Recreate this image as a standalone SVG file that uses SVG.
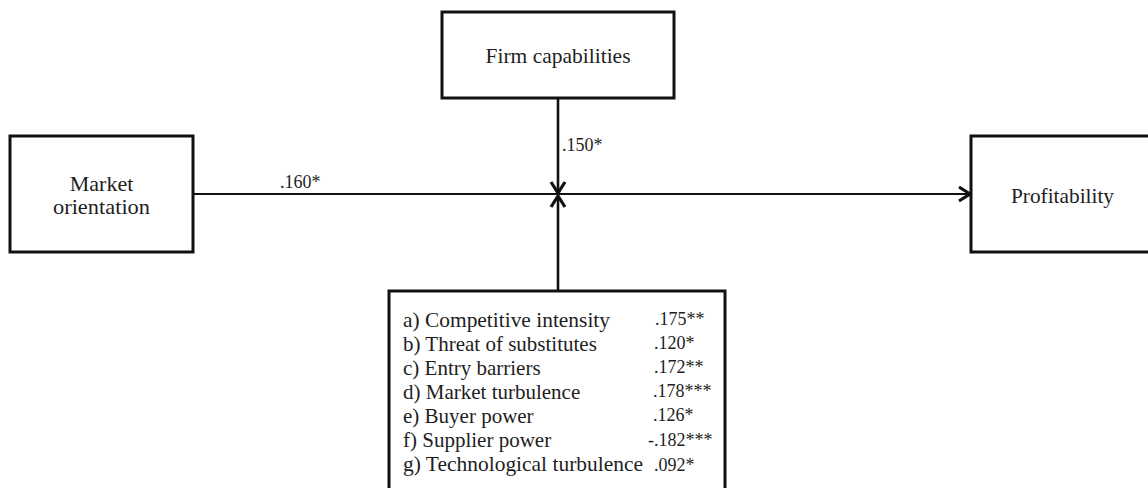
<svg xmlns="http://www.w3.org/2000/svg" width="1148" height="488" viewBox="0 0 1148 488">
  <style>
    .box { fill: #ffffff; stroke: #111111; stroke-width: 3; }
    .lbl { font-family: "Liberation Serif", "Times New Roman", serif; font-size: 21px; fill: #1e1e1e; }
    .node-lbl { font-size: 22px; }
    .coef { font-family: "Liberation Serif", "Times New Roman", serif; font-size: 18px; fill: #1e1e1e; }
    .link { stroke: #111111; fill: none; }
  </style>
  <defs>
    <marker id="chevron" viewBox="-15 -10 18 20" refX="0" refY="0" markerWidth="18" markerHeight="20" markerUnits="userSpaceOnUse" orient="auto">
      <path d="M-11,-7 L0,0 L-11,7" fill="none" stroke="#111111" stroke-width="3.2" stroke-linejoin="miter"/>
    </marker>
  </defs>
  <rect width="1148" height="488" fill="#ffffff"/>

  <!-- connectors -->
  <g id="connectors">
    <line class="link" x1="193" y1="194" x2="970" y2="194" stroke-width="2" marker-end="url(#chevron)"/>
    <line class="link" x1="558" y1="98" x2="558" y2="193" stroke-width="2.6" marker-end="url(#chevron)"/>
    <line class="link" x1="558" y1="290" x2="558" y2="196" stroke-width="2.6" marker-end="url(#chevron)"/>
    <text class="coef" x="280" y="188">.160*</text>
    <text class="coef" x="562" y="151">.150*</text>
  </g>

  <!-- Market orientation -->
  <g id="market-orientation">
    <rect class="box" x="10" y="136" width="183" height="116"/>
    <text class="lbl node-lbl" x="101.5" y="191" text-anchor="middle">Market</text>
    <text class="lbl node-lbl" x="101.5" y="214" text-anchor="middle" textLength="97" lengthAdjust="spacingAndGlyphs">orientation</text>
  </g>

  <!-- Firm capabilities -->
  <g id="firm-capabilities">
    <rect class="box" x="442" y="12" width="232" height="86"/>
    <text class="lbl node-lbl" x="558" y="63" text-anchor="middle" textLength="145" lengthAdjust="spacingAndGlyphs">Firm capabilities</text>
  </g>

  <!-- Profitability -->
  <g id="profitability">
    <rect class="box" x="971" y="136" width="200" height="116"/>
    <text class="lbl node-lbl" x="1062.5" y="203" text-anchor="middle" textLength="103" lengthAdjust="spacingAndGlyphs">Profitability</text>
  </g>

  <!-- Environmental moderators -->
  <g id="moderators">
    <rect class="box" x="389" y="291" width="336" height="230"/>
    <text class="lbl" x="403" y="327" textLength="207" lengthAdjust="spacingAndGlyphs">a) Competitive intensity</text>
    <text class="lbl" x="403" y="351">b) Threat of substitutes</text>
    <text class="lbl" x="403" y="375">c) Entry barriers</text>
    <text class="lbl" x="403" y="399">d) Market turbulence</text>
    <text class="lbl" x="403" y="423">e) Buyer power</text>
    <text class="lbl" x="403" y="447">f) Supplier power</text>
    <text class="lbl" x="403" y="471" textLength="240" lengthAdjust="spacingAndGlyphs">g) Technological turbulence</text>
    <text class="coef" x="655" y="325">.175**</text>
    <text class="coef" x="654" y="349">.120*</text>
    <text class="coef" x="654" y="373">.172**</text>
    <text class="coef" x="653" y="397">.178***</text>
    <text class="coef" x="653" y="421">.126*</text>
    <text class="coef" x="648" y="446">-.182***</text>
    <text class="coef" x="654" y="471">.092*</text>
  </g>
</svg>
